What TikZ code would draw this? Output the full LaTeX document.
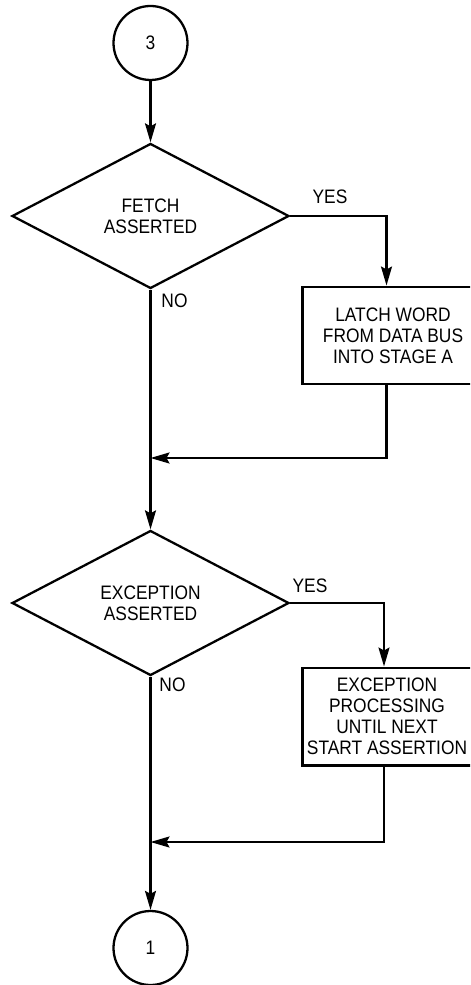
\documentclass[tikz,border=0pt]{standalone}
\usepackage{fontspec}
\setmainfont{Liberation Sans}[FakeStretch=0.89]
\usetikzlibrary{arrows.meta, shapes.geometric, positioning, calc}

\begin{document}
\begin{tikzpicture}[font=\fontsize{11.1}{12}\selectfont,
	term/.style={circle, draw, line width=1.3pt, minimum size=1.48cm, inner sep=0pt},
	test/.style={diamond, draw, line width=1.3pt, align=center,
		minimum width=5.54cm, minimum height=2.9cm, inner sep=0pt},
	task/.style={rectangle, draw, line width=1.7pt, align=center,
		minimum height=1.94cm, inner sep=0pt},
	fl/.style={-{Stealth[length=3.8mm, width=2.2mm, inset=0.6mm]}, line width=1.2pt},
	lbl/.style={inner sep=0pt}]

	\useasboundingbox (0,0) rectangle (9.4,-19.7);
	\clip (0,0) rectangle (9.4,-19.7);

	\node[term] (c3) at (3.01,-0.86) {3};
	\node[test] (d1) at (3.01,-4.32) {FETCH\\ASSERTED};
	\node[task, minimum width=3.64cm] (b1) at (7.86,-6.71) {LATCH WORD\\FROM DATA BUS\\INTO STAGE A};
	\node[test] (d2) at (3.01,-12.06) {EXCEPTION\\ASSERTED};
	\node[task, minimum width=3.4cm] (b2) at (7.74,-14.33) {EXCEPTION\\PROCESSING\\UNTIL NEXT\\START ASSERTION};
	\node[term] (c1) at (3.01,-18.96) {1};
	\coordinate (m1) at (3.01,-9.16);
	\coordinate (m2) at (3.01,-16.84);

	\draw[fl] (c3) -- (d1);
	\draw[fl] (d1.east) -| ([xshift=-1.3mm]b1.north);
	\draw[fl] (d1) -- (d2);
	\draw[fl] ([xshift=-1.3mm]b1.south) |- (m1);
	\draw[fl] (d2.east) -| ([xshift=-0.6mm]b2.north);
	\draw[fl] (d2) -- (c1);
	\draw[fl] ([xshift=-0.6mm]b2.south) |- (m2);

	\node[lbl] (y1) at (6.6,-3.94) {YES};
	\node[lbl] (n1) at (3.49,-6.01) {NO};
	\node[lbl] (y2) at (6.2,-11.71) {YES};
	\node[lbl] (n2) at (3.45,-13.69) {NO};
\end{tikzpicture}
\end{document}
